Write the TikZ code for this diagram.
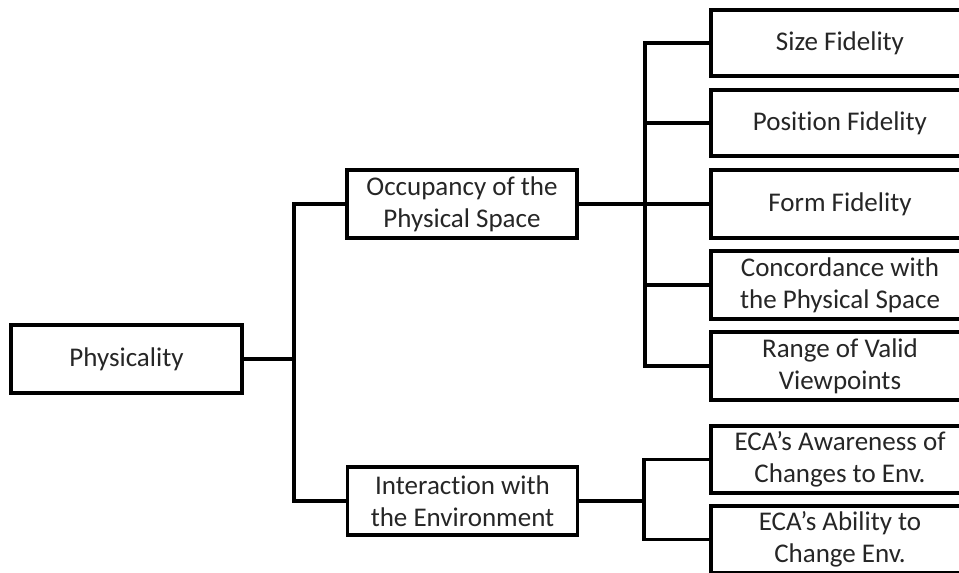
\documentclass[tikz,border=0pt]{standalone}
\usepackage{fontspec}
\setmainfont[Ligatures={NoCommon}]{Carlito}
\begin{document}
\begin{tikzpicture}[x=1pt,y=-1pt,
  box/.style={draw=black, line width=3.6pt, fill=white, align=center, inner sep=0pt,
    font=\fontsize{27}{32}\selectfont, text=black!85},
  conn/.style={draw=black, line width=3.2pt}]
\fill[white] (0,0) rectangle (959,573);
\useasboundingbox (0,0) rectangle (959,573);
\clip (0,0) rectangle (959,573);
% left column
\node[box, minimum width=231pt, minimum height=68pt] (phys) at (126.5,359) {Physicality};
\node[box, minimum width=230pt, minimum height=68pt] (occ) at (462,204) {Occupancy of the\\Physical Space};
\node[box, minimum width=230pt, minimum height=68pt] (inter) at (462.5,501) {Interaction with\\the Environment};
% right column
\node[box, minimum width=258pt, minimum height=66pt] (size) at (840,43) {Size Fidelity};
\node[box, minimum width=258pt, minimum height=66pt] (pos) at (840,123) {Position Fidelity};
\node[box, minimum width=258pt, minimum height=68pt] (form) at (840,204) {Form Fidelity};
\node[box, minimum width=258pt, minimum height=68pt] (conc) at (840,285) {Concordance with\\the Physical Space};
\node[box, minimum width=258pt, minimum height=68pt] (range) at (840,366) {Range of Valid\\Viewpoints};
\node[box, minimum width=258pt, minimum height=67pt] (aware) at (840,459.5) {ECA’s Awareness of\\Changes to Env.};
\node[box, minimum width=258pt, minimum height=67pt] (abil) at (840,539.5) {ECA’s Ability to\\Change Env.};
% trunk coordinates
\coordinate (t1) at (294,0);
\coordinate (t2) at (645,0);
\coordinate (t3) at (644,0);
% connectors
\draw[conn] (phys.east) -- (phys.east -| t1);
\draw[conn] (occ.west) -- (occ.west -| t1) -- (inter.west -| t1) -- (inter.west);
\draw[conn] (occ.east) -- (occ.east -| t2);
\draw[conn] (size.west) -- (size.west -| t2) -- (range.west -| t2) -- (range.west);
\draw[conn] (pos.west) -- (pos.west -| t2);
\draw[conn] (form.west) -- (form.west -| t2);
\draw[conn] (conc.west) -- (conc.west -| t2);
\draw[conn] (inter.east) -- (inter.east -| t3);
\draw[conn] (aware.west) -- (aware.west -| t3) -- (abil.west -| t3) -- (abil.west);
\end{tikzpicture}
\end{document}
